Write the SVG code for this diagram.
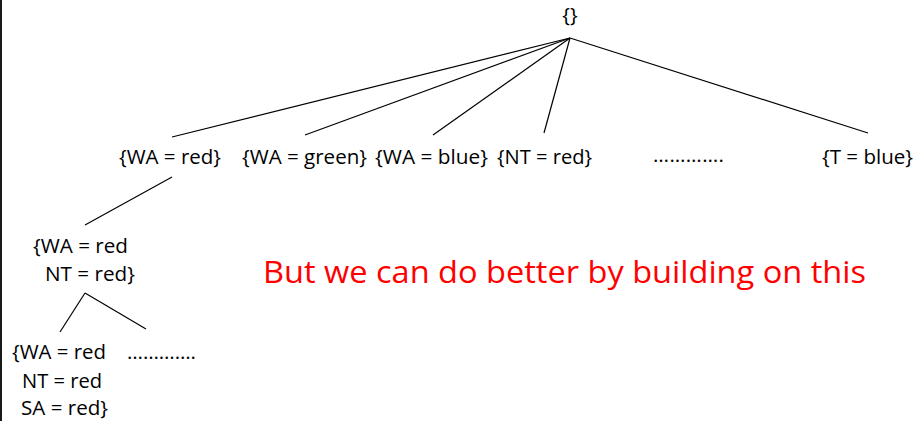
<svg xmlns="http://www.w3.org/2000/svg" width="915" height="421" viewBox="0 0 915 421">
<style>
.t{font-family:"Open Sans","Noto Sans",sans-serif;font-size:20.5px;fill:#000}
.r{font-family:"Open Sans","Noto Sans",sans-serif;font-size:31px;fill:#FF0000}
.e{stroke:#000;stroke-width:1.2;fill:none}
</style>
<rect x="0" y="0" width="915" height="421" fill="#fff"/>
<rect x="0" y="0" width="2" height="421" fill="#1a1a1a"/>
<g id="edges">
<line class="e" x1="570" y1="38" x2="172" y2="137"/>
<line class="e" x1="570" y1="38" x2="305" y2="135"/>
<line class="e" x1="570" y1="38" x2="433" y2="135"/>
<line class="e" x1="570" y1="38" x2="544" y2="133"/>
<line class="e" x1="570" y1="38" x2="868" y2="133"/>
<line class="e" x1="172" y1="177" x2="85" y2="225"/>
<line class="e" x1="85" y1="293" x2="60" y2="332"/>
<line class="e" x1="85" y1="293" x2="146" y2="329"/>
</g>
<g id="root"><text class="t" x="570" y="22" text-anchor="middle">{}</text></g>
<g id="wa-red"><text class="t" x="119" y="164" textLength="102" lengthAdjust="spacingAndGlyphs">{WA = red}</text></g>
<g id="wa-green"><text class="t" x="242" y="164" textLength="125" lengthAdjust="spacingAndGlyphs">{WA = green}</text></g>
<g id="wa-blue"><text class="t" x="375" y="164" textLength="113" lengthAdjust="spacingAndGlyphs">{WA = blue}</text></g>
<g id="nt-red"><text class="t" x="497" y="164" textLength="95" lengthAdjust="spacingAndGlyphs">{NT = red}</text></g>
<g id="dots1"><text class="t" x="653" y="162" textLength="71">………….</text></g>
<g id="t-blue"><text class="t" x="822" y="164" textLength="91" lengthAdjust="spacingAndGlyphs">{T = blue}</text></g>
<g id="wa-nt"><text class="t" x="33" y="253" textLength="95" lengthAdjust="spacingAndGlyphs">{WA = red</text><text class="t" x="45" y="281" textLength="90" lengthAdjust="spacingAndGlyphs">NT = red}</text></g>
<g id="wa-nt-sa"><text class="t" x="12" y="359" textLength="94" lengthAdjust="spacingAndGlyphs">{WA = red</text><text class="t" x="22" y="388" textLength="80" lengthAdjust="spacingAndGlyphs">NT = red</text><text class="t" x="21" y="415" textLength="87" lengthAdjust="spacingAndGlyphs">SA = red}</text></g>
<g id="dots2"><text class="t" x="127" y="359" textLength="69">………….</text></g>
<g id="note"><text class="r" x="263" y="283" textLength="603" lengthAdjust="spacingAndGlyphs">But we can do better by building on this</text></g>
</svg>
